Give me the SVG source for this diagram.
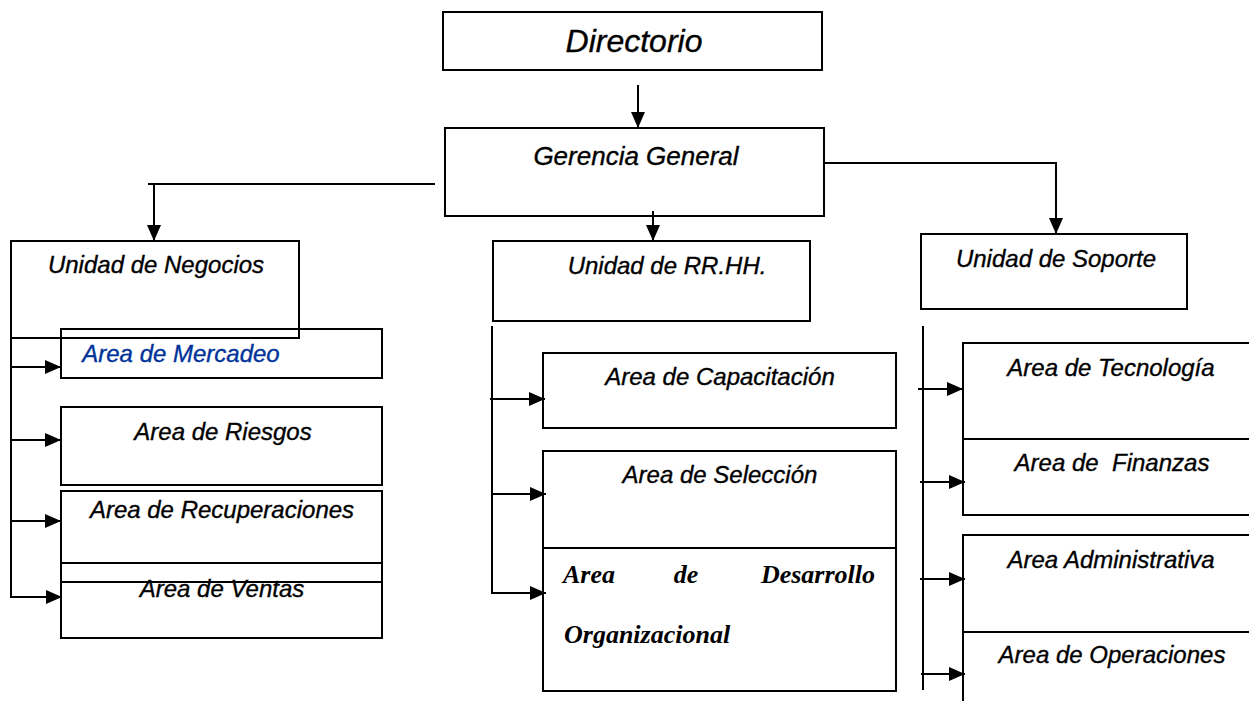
<svg xmlns="http://www.w3.org/2000/svg" width="1249" height="701" viewBox="0 0 1249 701">
<defs>
<marker id="ah" markerUnits="userSpaceOnUse" markerWidth="16" markerHeight="14" refX="16" refY="7" orient="auto">
<path d="M0,0 L16,7 L0,14 Z" fill="#000"/>
</marker>
<style>
.box{fill:#fff;stroke:#000;stroke-width:2}
.t{font-family:"Liberation Sans",Arial,sans-serif;font-style:italic;font-size:24px;fill:#000;stroke:#000;stroke-width:0.35;text-anchor:middle}
.ts{font-family:"Liberation Serif","Times New Roman",serif;font-style:italic;font-weight:bold;font-size:26px;fill:#000}
.c{fill:none;stroke:#000;stroke-width:2}
.a{fill:none;stroke:#000;stroke-width:2;marker-end:url(#ah)}
</style>
</defs>
<rect width="1249" height="701" fill="#fff"/>

<g id="directorio"><rect class="box" x="443" y="12" width="379" height="58"/><text class="t" x="634" y="52" style="font-size:32px">Directorio</text></g>
<g id="gerencia"><rect class="box" x="445" y="128" width="379" height="88"/><text class="t" x="636" y="165" style="font-size:26px">Gerencia General</text></g>

<g id="mercadeo"><rect class="box" x="61" y="329" width="321" height="49"/><text class="t" x="181" y="362" style="fill:#003399;stroke:#003399">Area de Mercadeo</text></g>
<g id="unidad-negocios"><rect class="box" x="11" y="241" width="288" height="97" style="fill:none"/><rect x="12" y="242" width="286" height="86" fill="#fff"/><text class="t" x="156" y="273">Unidad de Negocios</text></g>
<g id="riesgos"><rect class="box" x="61" y="407" width="321" height="78"/><text class="t" x="223" y="440">Area de Riesgos</text></g>
<g id="recuperaciones"><rect class="box" x="61" y="491" width="321" height="91"/><text class="t" x="222" y="518">Area de Recuperaciones</text></g>
<g id="ventas"><rect class="box" x="61" y="563" width="321" height="75" style="fill:none"/><text class="t" x="222" y="597">Area de Ventas</text></g>

<g id="unidad-rrhh"><rect class="box" x="493" y="241" width="317" height="80"/><text class="t" x="667" y="274">Unidad de RR.HH.</text></g>
<g id="capacitacion"><rect class="box" x="543" y="353" width="353" height="75"/><text class="t" x="720" y="385">Area de Capacitación</text></g>
<g id="seleccion"><rect class="box" x="543" y="451" width="353" height="97"/><text class="t" x="720" y="483">Area de Selección</text></g>
<g id="desarrollo"><rect class="box" x="543" y="548" width="353" height="143"/>
<text class="ts" x="563" y="583">Area</text><text class="ts" x="686" y="583" text-anchor="middle">de</text><text class="ts" x="875" y="583" text-anchor="end">Desarrollo</text>
<text class="ts" x="564" y="643">Organizacional</text></g>

<g id="unidad-soporte"><rect class="box" x="921" y="234" width="266" height="75"/><text class="t" x="1056" y="267">Unidad de Soporte</text></g>
<g id="tecnologia"><rect class="box" x="963" y="343" width="300" height="96"/><text class="t" x="1111" y="376">Area de Tecnología</text></g>
<g id="finanzas"><rect class="box" x="963" y="439" width="300" height="76"/><text class="t" x="1112" y="471" xml:space="preserve">Area de  Finanzas</text></g>
<g id="administrativa"><rect class="box" x="963" y="535" width="300" height="97"/><text class="t" x="1111" y="568">Area Administrativa</text></g>
<g id="operaciones"><rect class="box" x="963" y="632" width="300" height="90"/><text class="t" x="1112" y="663">Area de Operaciones</text></g>

<g id="connectors">
<line class="a" x1="638" y1="85" x2="638" y2="128"/>
<polyline class="c" points="435,184 148,184"/>
<line class="a" x1="154" y1="184" x2="154" y2="241"/>
<polyline class="a" points="825,163 1056,163 1056,234"/>
<line class="a" x1="653" y1="211" x2="653" y2="241"/>

<line class="c" x1="11" y1="307" x2="11" y2="598"/>
<line class="a" x1="11" y1="367" x2="61" y2="367"/>
<line class="a" x1="11" y1="440" x2="61" y2="440"/>
<line class="a" x1="11" y1="521" x2="61" y2="521"/>
<line class="a" x1="12" y1="597" x2="62" y2="597"/>

<line class="c" x1="492" y1="326" x2="492" y2="594"/>
<line class="a" x1="490" y1="399" x2="545" y2="399"/>
<line class="a" x1="492" y1="494" x2="546" y2="494"/>
<line class="a" x1="492" y1="593" x2="546" y2="593"/>

<line class="c" x1="923" y1="326" x2="923" y2="690"/>
<line class="a" x1="918" y1="389" x2="963" y2="389"/>
<line class="a" x1="920" y1="482" x2="965" y2="482"/>
<line class="a" x1="920" y1="579" x2="965" y2="579"/>
<line class="a" x1="921" y1="674" x2="965" y2="674"/>
</g>
</svg>
